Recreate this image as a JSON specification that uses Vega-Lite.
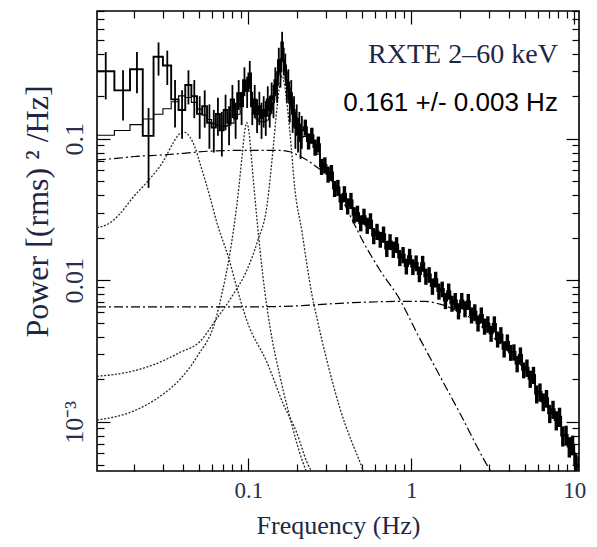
{
  "$schema": "https://vega.github.io/schema/vega-lite/v6.json",
  "width": 482,
  "height": 460,
  "autosize": {"type": "none"},
  "padding": {"left": 97, "top": 11, "right": 18, "bottom": 76},
  "background": "white",
  "config": {
    "view": {"stroke": "black", "strokeWidth": 1.6},
    "axis": {
      "domain": false,
      "grid": false,
      "tickColor": "black",
      "tickWidth": 1.2,
      "labelFont": "Liberation Serif",
      "labelColor": "#26304f",
      "titleFont": "Liberation Serif",
      "titleFontWeight": "normal",
      "titleColor": "#1e2647",
      "labelOverlap": false,
      "labelFlush": false,
      "labelBound": false
    }
  },
  "datasets": {
    "spectrum": [
      {"f": 0.00965, "p": 0.30, "e": 0.11, "m": 0.10},
      {"f": 0.01335, "p": 0.30, "e": 0.11, "m": 0.106},
      {"f": 0.01705, "p": 0.22, "e": 0.085, "m": 0.1145},
      {"f": 0.02075, "p": 0.31, "e": 0.10, "m": 0.126},
      {"f": 0.02445, "p": 0.105, "e": 0.06, "m": 0.138},
      {"f": 0.02815, "p": 0.38, "e": 0.10, "m": 0.149},
      {"f": 0.03185, "p": 0.33, "e": 0.09, "m": 0.163},
      {"f": 0.03555, "p": 0.19, "e": 0.07, "m": 0.183},
      {"f": 0.03925, "p": 0.16, "e": 0.06, "m": 0.201},
      {"f": 0.04295, "p": 0.24, "e": 0.065, "m": 0.196},
      {"f": 0.04665, "p": 0.20, "e": 0.06, "m": 0.181},
      {"f": 0.05035, "p": 0.15, "e": 0.05, "m": 0.162},
      {"f": 0.05405, "p": 0.17, "e": 0.05, "m": 0.147},
      {"f": 0.05775, "p": 0.13, "e": 0.045, "m": 0.137},
      {"f": 0.06145, "p": 0.12, "e": 0.04, "m": 0.128},
      {"f": 0.06515, "p": 0.15, "e": 0.045, "m": 0.125},
      {"f": 0.06885, "p": 0.115, "e": 0.04, "m": 0.122},
      {"f": 0.07255, "p": 0.16, "e": 0.045, "m": 0.123},
      {"f": 0.07625, "p": 0.13, "e": 0.04, "m": 0.125},
      {"f": 0.07995, "p": 0.19, "e": 0.05, "m": 0.129},
      {"f": 0.08365, "p": 0.14, "e": 0.04, "m": 0.1375},
      {"f": 0.08735, "p": 0.21, "e": 0.05, "m": 0.149},
      {"f": 0.09105, "p": 0.17, "e": 0.045, "m": 0.177},
      {"f": 0.09475, "p": 0.26, "e": 0.06, "m": 0.216},
      {"f": 0.09845, "p": 0.22, "e": 0.055, "m": 0.236},
      {"f": 0.10215, "p": 0.29, "e": 0.065, "m": 0.217},
      {"f": 0.10585, "p": 0.17, "e": 0.045, "m": 0.171},
      {"f": 0.10955, "p": 0.19, "e": 0.05, "m": 0.149},
      {"f": 0.11325, "p": 0.15, "e": 0.04, "m": 0.138},
      {"f": 0.11695, "p": 0.17, "e": 0.045, "m": 0.133},
      {"f": 0.12065, "p": 0.14, "e": 0.04, "m": 0.132},
      {"f": 0.12435, "p": 0.16, "e": 0.04, "m": 0.132},
      {"f": 0.12805, "p": 0.145, "e": 0.04, "m": 0.133},
      {"f": 0.13175, "p": 0.19, "e": 0.045, "m": 0.136},
      {"f": 0.13545, "p": 0.16, "e": 0.04, "m": 0.147},
      {"f": 0.13915, "p": 0.20, "e": 0.05, "m": 0.161},
      {"f": 0.14285, "p": 0.19, "e": 0.05, "m": 0.18},
      {"f": 0.14655, "p": 0.26, "e": 0.06, "m": 0.209},
      {"f": 0.15025, "p": 0.24, "e": 0.06, "m": 0.259},
      {"f": 0.15395, "p": 0.36, "e": 0.08, "m": 0.313},
      {"f": 0.15765, "p": 0.30, "e": 0.07, "m": 0.358},
      {"f": 0.16135, "p": 0.48, "e": 0.09, "m": 0.373},
      {"f": 0.16505, "p": 0.36, "e": 0.08, "m": 0.348},
      {"f": 0.16875, "p": 0.33, "e": 0.07, "m": 0.302},
      {"f": 0.17245, "p": 0.24, "e": 0.06, "m": 0.261},
      {"f": 0.17615, "p": 0.25, "e": 0.06, "m": 0.225},
      {"f": 0.17985, "p": 0.18, "e": 0.05, "m": 0.199},
      {"f": 0.18355, "p": 0.21, "e": 0.05, "m": 0.175},
      {"f": 0.18725, "p": 0.15, "e": 0.04, "m": 0.154},
      {"f": 0.19095, "p": 0.16, "e": 0.04, "m": 0.138},
      {"f": 0.19465, "p": 0.12, "e": 0.035, "m": 0.129},
      {"f": 0.19835, "p": 0.14, "e": 0.035, "m": 0.121},
      {"f": 0.20205, "p": 0.11, "e": 0.03, "m": 0.114},
      {"f": 0.20575, "p": 0.125, "e": 0.03, "m": 0.109},
      {"f": 0.20945, "p": 0.10, "e": 0.028, "m": 0.105},
      {"f": 0.21315, "p": 0.115, "e": 0.03, "m": 0.103},
      {"f": 0.2239, "p": 0.121, "e": 0.0157, "m": 0.104},
      {"f": 0.2344, "p": 0.0966, "e": 0.0126, "m": 0.099},
      {"f": 0.2455, "p": 0.106, "e": 0.0138, "m": 0.094},
      {"f": 0.2570, "p": 0.0874, "e": 0.0114, "m": 0.087},
      {"f": 0.2692, "p": 0.0918, "e": 0.0119, "m": 0.078},
      {"f": 0.2818, "p": 0.0639, "e": 0.0083, "m": 0.068},
      {"f": 0.2951, "p": 0.0655, "e": 0.0085, "m": 0.061},
      {"f": 0.3090, "p": 0.0563, "e": 0.0073, "m": 0.056},
      {"f": 0.3236, "p": 0.0578, "e": 0.0075, "m": 0.051},
      {"f": 0.3388, "p": 0.0446, "e": 0.0058, "m": 0.047},
      {"f": 0.3548, "p": 0.0454, "e": 0.0059, "m": 0.043},
      {"f": 0.3715, "p": 0.0361, "e": 0.0047},
      {"f": 0.3890, "p": 0.041, "e": 0.0053},
      {"f": 0.4074, "p": 0.0336, "e": 0.0044},
      {"f": 0.4266, "p": 0.0367, "e": 0.0048},
      {"f": 0.4467, "p": 0.0291, "e": 0.0038},
      {"f": 0.4677, "p": 0.0298, "e": 0.0039},
      {"f": 0.4898, "p": 0.0255, "e": 0.0033},
      {"f": 0.5129, "p": 0.0284, "e": 0.0037},
      {"f": 0.5370, "p": 0.0245, "e": 0.0032},
      {"f": 0.5623, "p": 0.0264, "e": 0.0034},
      {"f": 0.5888, "p": 0.0207, "e": 0.0027},
      {"f": 0.6166, "p": 0.0222, "e": 0.0029},
      {"f": 0.6457, "p": 0.0195, "e": 0.0025},
      {"f": 0.6761, "p": 0.0212, "e": 0.0028},
      {"f": 0.7079, "p": 0.0168, "e": 0.0022},
      {"f": 0.7413, "p": 0.0188, "e": 0.0024},
      {"f": 0.7762, "p": 0.0166, "e": 0.0022},
      {"f": 0.8128, "p": 0.0179, "e": 0.0023},
      {"f": 0.8511, "p": 0.0145, "e": 0.0019},
      {"f": 0.8913, "p": 0.0152, "e": 0.002},
      {"f": 0.9333, "p": 0.0126, "e": 0.0016},
      {"f": 0.9772, "p": 0.0148, "e": 0.0019},
      {"f": 1.0233, "p": 0.0125, "e": 0.0016},
      {"f": 1.0715, "p": 0.0133, "e": 0.0017},
      {"f": 1.1220, "p": 0.0111, "e": 0.0014},
      {"f": 1.1749, "p": 0.0132, "e": 0.0017},
      {"f": 1.2303, "p": 0.0107, "e": 0.0014},
      {"f": 1.2882, "p": 0.011, "e": 0.0014},
      {"f": 1.3490, "p": 0.0091, "e": 0.0012},
      {"f": 1.4125, "p": 0.0102, "e": 0.0013},
      {"f": 1.4791, "p": 0.0084, "e": 0.0011},
      {"f": 1.5488, "p": 0.0087, "e": 0.0011},
      {"f": 1.6218, "p": 0.0072, "e": 0.00094},
      {"f": 1.6982, "p": 0.0084, "e": 0.0011},
      {"f": 1.7783, "p": 0.0069, "e": 0.0009},
      {"f": 1.8621, "p": 0.0072, "e": 0.00094},
      {"f": 1.9498, "p": 0.0061, "e": 0.0008},
      {"f": 2.0417, "p": 0.0072, "e": 0.00094},
      {"f": 2.1380, "p": 0.0063, "e": 0.00082},
      {"f": 2.2387, "p": 0.0071, "e": 0.00092},
      {"f": 2.3442, "p": 0.0057, "e": 0.00074},
      {"f": 2.4547, "p": 0.006, "e": 0.00078},
      {"f": 2.5704, "p": 0.005, "e": 0.00065},
      {"f": 2.6915, "p": 0.0057, "e": 0.00074},
      {"f": 2.8184, "p": 0.00475, "e": 0.00062},
      {"f": 2.9512, "p": 0.00494, "e": 0.00064},
      {"f": 3.0903, "p": 0.00423, "e": 0.00055},
      {"f": 3.2359, "p": 0.00493, "e": 0.00064},
      {"f": 3.3884, "p": 0.00385, "e": 0.0005},
      {"f": 3.5481, "p": 0.00413, "e": 0.00054},
      {"f": 3.7154, "p": 0.00328, "e": 0.00043},
      {"f": 3.8905, "p": 0.00367, "e": 0.00048},
      {"f": 4.0738, "p": 0.0031, "e": 0.0004},
      {"f": 4.2658, "p": 0.00312, "e": 0.00041},
      {"f": 4.4668, "p": 0.00258, "e": 0.00034},
      {"f": 4.6774, "p": 0.00297, "e": 0.00039},
      {"f": 4.8978, "p": 0.00233, "e": 0.0003},
      {"f": 5.1286, "p": 0.00242, "e": 0.00034},
      {"f": 5.3703, "p": 0.00202, "e": 0.00028},
      {"f": 5.6234, "p": 0.00215, "e": 0.0003},
      {"f": 5.8884, "p": 0.00158, "e": 0.00023},
      {"f": 6.1660, "p": 0.00163, "e": 0.00024},
      {"f": 6.4565, "p": 0.00139, "e": 0.0002},
      {"f": 6.7608, "p": 0.00147, "e": 0.00021},
      {"f": 7.0795, "p": 0.00115, "e": 0.00017},
      {"f": 7.4131, "p": 0.00123, "e": 0.00018},
      {"f": 7.7625, "p": 0.00103, "e": 0.00016},
      {"f": 8.1283, "p": 0.00109, "e": 0.00017},
      {"f": 8.5114, "p": 0.0008, "e": 0.00013},
      {"f": 8.9125, "p": 0.00081, "e": 0.00013},
      {"f": 9.3325, "p": 0.00067, "e": 0.00011},
      {"f": 9.7724, "p": 0.00069, "e": 0.00011},
      {"f": 10.2329, "p": 0.0005, "e": 0.00009},
      {"f": 10.7152, "p": 0.00048, "e": 0.00009},
      {"f": 11.22, "p": 0.00041, "e": 0.00008}
    ],
    "components": [
      {"name": "qpo1", "f": 0.0118, "p": 0.0236}, {"name": "qpo1", "f": 0.0142, "p": 0.0255},
      {"name": "qpo1", "f": 0.0163, "p": 0.0295}, {"name": "qpo1", "f": 0.0196, "p": 0.0385},
      {"name": "qpo1", "f": 0.0239, "p": 0.0495}, {"name": "qpo1", "f": 0.030, "p": 0.069},
      {"name": "qpo1", "f": 0.0345, "p": 0.093}, {"name": "qpo1", "f": 0.0371, "p": 0.106},
      {"name": "qpo1", "f": 0.0398, "p": 0.112}, {"name": "qpo1", "f": 0.0439, "p": 0.103},
      {"name": "qpo1", "f": 0.0471, "p": 0.087}, {"name": "qpo1", "f": 0.0506, "p": 0.067},
      {"name": "qpo1", "f": 0.0582, "p": 0.0388}, {"name": "qpo1", "f": 0.0643, "p": 0.0254},
      {"name": "qpo1", "f": 0.0751, "p": 0.0149}, {"name": "qpo1", "f": 0.0865, "p": 0.0083},
      {"name": "qpo1", "f": 0.098, "p": 0.0052}, {"name": "qpo1", "f": 0.131, "p": 0.0026},
      {"name": "qpo1", "f": 0.163, "p": 0.00136}, {"name": "qpo1", "f": 0.199, "p": 0.00083},
      {"name": "qpo1", "f": 0.229, "p": 0.00052}, {"name": "qpo1", "f": 0.26, "p": 0.0004},

      {"name": "qpo2", "f": 0.0118, "p": 0.00103}, {"name": "qpo2", "f": 0.02, "p": 0.0012},
      {"name": "qpo2", "f": 0.03, "p": 0.00157}, {"name": "qpo2", "f": 0.0381, "p": 0.002},
      {"name": "qpo2", "f": 0.0486, "p": 0.0029}, {"name": "qpo2", "f": 0.0628, "p": 0.0052},
      {"name": "qpo2", "f": 0.069, "p": 0.0081}, {"name": "qpo2", "f": 0.0751, "p": 0.013},
      {"name": "qpo2", "f": 0.0829, "p": 0.027}, {"name": "qpo2", "f": 0.0865, "p": 0.040},
      {"name": "qpo2", "f": 0.092, "p": 0.079}, {"name": "qpo2", "f": 0.095, "p": 0.112},
      {"name": "qpo2", "f": 0.098, "p": 0.13}, {"name": "qpo2", "f": 0.101, "p": 0.112},
      {"name": "qpo2", "f": 0.104, "p": 0.079}, {"name": "qpo2", "f": 0.1054, "p": 0.066},
      {"name": "qpo2", "f": 0.1131, "p": 0.027}, {"name": "qpo2", "f": 0.118, "p": 0.0165},
      {"name": "qpo2", "f": 0.1266, "p": 0.0082}, {"name": "qpo2", "f": 0.1359, "p": 0.0047},
      {"name": "qpo2", "f": 0.1565, "p": 0.0021}, {"name": "qpo2", "f": 0.1728, "p": 0.0013},
      {"name": "qpo2", "f": 0.2137, "p": 0.00054}, {"name": "qpo2", "f": 0.23, "p": 0.00043},

      {"name": "qpo3", "f": 0.0118, "p": 0.0021}, {"name": "qpo3", "f": 0.02, "p": 0.0023},
      {"name": "qpo3", "f": 0.03, "p": 0.0027}, {"name": "qpo3", "f": 0.0381, "p": 0.0031},
      {"name": "qpo3", "f": 0.0506, "p": 0.0037}, {"name": "qpo3", "f": 0.0628, "p": 0.0052},
      {"name": "qpo3", "f": 0.08, "p": 0.0078}, {"name": "qpo3", "f": 0.098, "p": 0.0118},
      {"name": "qpo3", "f": 0.1131, "p": 0.0184}, {"name": "qpo3", "f": 0.1313, "p": 0.036},
      {"name": "qpo3", "f": 0.142, "p": 0.085}, {"name": "qpo3", "f": 0.15, "p": 0.165},
      {"name": "qpo3", "f": 0.156, "p": 0.24}, {"name": "qpo3", "f": 0.161, "p": 0.28},
      {"name": "qpo3", "f": 0.166, "p": 0.25}, {"name": "qpo3", "f": 0.1735, "p": 0.17},
      {"name": "qpo3", "f": 0.1803, "p": 0.110}, {"name": "qpo3", "f": 0.1935, "p": 0.0435},
      {"name": "qpo3", "f": 0.2137, "p": 0.022}, {"name": "qpo3", "f": 0.2293, "p": 0.0128},
      {"name": "qpo3", "f": 0.246, "p": 0.0079}, {"name": "qpo3", "f": 0.264, "p": 0.0054},
      {"name": "qpo3", "f": 0.304, "p": 0.0027}, {"name": "qpo3", "f": 0.365, "p": 0.00125},
      {"name": "qpo3", "f": 0.498, "p": 0.00048}, {"name": "qpo3", "f": 0.53, "p": 0.0004},

      {"name": "bln1", "f": 0.0118, "p": 0.071}, {"name": "bln1", "f": 0.016, "p": 0.073},
      {"name": "bln1", "f": 0.02, "p": 0.075}, {"name": "bln1", "f": 0.03, "p": 0.077},
      {"name": "bln1", "f": 0.04, "p": 0.079}, {"name": "bln1", "f": 0.06, "p": 0.082},
      {"name": "bln1", "f": 0.1, "p": 0.083}, {"name": "bln1", "f": 0.15, "p": 0.083},
      {"name": "bln1", "f": 0.18, "p": 0.081}, {"name": "bln1", "f": 0.205, "p": 0.076},
      {"name": "bln1", "f": 0.23, "p": 0.0705}, {"name": "bln1", "f": 0.264, "p": 0.063},
      {"name": "bln1", "f": 0.317, "p": 0.0528}, {"name": "bln1", "f": 0.365, "p": 0.040},
      {"name": "bln1", "f": 0.42, "p": 0.0289}, {"name": "bln1", "f": 0.52, "p": 0.0178},
      {"name": "bln1", "f": 0.643, "p": 0.0118}, {"name": "bln1", "f": 0.853, "p": 0.0073},
      {"name": "bln1", "f": 1.1, "p": 0.0041}, {"name": "bln1", "f": 1.36, "p": 0.0026},
      {"name": "bln1", "f": 1.99, "p": 0.00115}, {"name": "bln1", "f": 3.04, "p": 0.00046},
      {"name": "bln1", "f": 3.3, "p": 0.0004},

      {"name": "bln2", "f": 0.0118, "p": 0.0065}, {"name": "bln2", "f": 0.05, "p": 0.0065},
      {"name": "bln2", "f": 0.1, "p": 0.0065}, {"name": "bln2", "f": 0.2, "p": 0.0066},
      {"name": "bln2", "f": 0.3, "p": 0.0068}, {"name": "bln2", "f": 0.5, "p": 0.007},
      {"name": "bln2", "f": 0.8, "p": 0.0071}, {"name": "bln2", "f": 1.2, "p": 0.0071},
      {"name": "bln2", "f": 1.5, "p": 0.0068}, {"name": "bln2", "f": 1.85, "p": 0.0062},
      {"name": "bln2", "f": 2.5, "p": 0.0051}, {"name": "bln2", "f": 3.0, "p": 0.0042},
      {"name": "bln2", "f": 4.0, "p": 0.0031}, {"name": "bln2", "f": 5.0, "p": 0.0023},
      {"name": "bln2", "f": 6.0, "p": 0.00165}, {"name": "bln2", "f": 7.0, "p": 0.00125},
      {"name": "bln2", "f": 8.0, "p": 0.001}, {"name": "bln2", "f": 9.0, "p": 0.0008},
      {"name": "bln2", "f": 10.0, "p": 0.00062}, {"name": "bln2", "f": 11.0, "p": 0.0005}
    ]
  },
  "layer": [
    {
      "data": {"name": "components"},
      "transform": [{"filter": "datum.name == 'qpo1' || datum.name == 'qpo2' || datum.name == 'qpo3'"}],
      "mark": {"type": "line", "clip": true, "interpolate": "monotone", "color": "#2a2a2a", "strokeWidth": 1.3, "strokeDash": [2, 1.6]},
      "encoding": {
        "x": {
          "field": "f", "type": "quantitative",
          "scale": {"type": "log", "domain": [0.0118, 10.7], "nice": false},
          "axis": {
            "orient": "bottom",
            "values": [0.02, 0.03, 0.04, 0.05, 0.06, 0.07, 0.08, 0.09, 0.1, 0.2, 0.3, 0.4, 0.5, 0.6, 0.7, 0.8, 0.9, 1, 2, 3, 4, 5, 6, 7, 8, 9, 10],
            "labelExpr": "datum.value == 0.1 ? '0.1' : datum.value == 1 ? '1' : datum.value == 10 ? '10' : ''",
            "tickSize": {"condition": {"test": "datum.value == 0.1 || datum.value == 1 || datum.value == 10", "value": -13}, "value": -7},
            "labelFontSize": 23,
            "labelPadding": 21,
            "labelBaseline": "top",
            "title": "Frequency (Hz)",
            "titleFontSize": 26,
            "titleBaseline": "alphabetic",
            "titleY": 62
          }
        },
        "y": {
          "field": "p", "type": "quantitative",
          "scale": {"type": "log", "domain": [0.00045, 0.8], "nice": false},
          "axis": {
            "orient": "left",
            "values": [0.0005, 0.0006, 0.0007, 0.0008, 0.0009, 0.001, 0.002, 0.003, 0.004, 0.005, 0.006, 0.007, 0.008, 0.009, 0.01, 0.02, 0.03, 0.04, 0.05, 0.06, 0.07, 0.08, 0.09, 0.1, 0.2, 0.3, 0.4, 0.5, 0.6, 0.7, 0.8],
            "labelExpr": "datum.value == 0.1 ? '0.1' : datum.value == 0.01 ? '0.01' : datum.value == 0.001 ? '10⁻³' : ''",
            "tickSize": {"condition": {"test": "datum.value == 0.1 || datum.value == 0.01 || datum.value == 0.001", "value": -13}, "value": -7},
            "labelAngle": -90,
            "labelAlign": "center",
            "labelBaseline": "alphabetic",
            "labelFontSize": 26,
            "labelPadding": 28,
            "title": "Power [(rms) ² /Hz]",
            "titleFontSize": 32,
            "titleAngle": -90,
            "titleAlign": "center",
            "titleBaseline": "alphabetic",
            "titleX": -50,
            "titleY": 200
          }
        },
        "detail": {"field": "name"}
      }
    },
    {
      "data": {"name": "components"},
      "transform": [{"filter": "datum.name == 'bln1' || datum.name == 'bln2'"}],
      "mark": {"type": "line", "clip": true, "interpolate": "monotone", "color": "black", "strokeWidth": 1.2, "strokeDash": [9, 3, 2, 3]},
      "encoding": {
        "x": {
          "field": "f", "type": "quantitative",
          "scale": {"type": "log", "domain": [0.0118, 10.7], "nice": false},
          "axis": {
            "orient": "top",
            "values": [0.02, 0.03, 0.04, 0.05, 0.06, 0.07, 0.08, 0.09, 0.1, 0.2, 0.3, 0.4, 0.5, 0.6, 0.7, 0.8, 0.9, 1, 2, 3, 4, 5, 6, 7, 8, 9, 10],
            "labels": false,
            "tickSize": {"condition": {"test": "datum.value == 0.1 || datum.value == 1 || datum.value == 10", "value": -13}, "value": -7},
            "title": null
          }
        },
        "y": {
          "field": "p", "type": "quantitative",
          "scale": {"type": "log", "domain": [0.00045, 0.8], "nice": false},
          "axis": {
            "orient": "right",
            "values": [0.0005, 0.0006, 0.0007, 0.0008, 0.0009, 0.001, 0.002, 0.003, 0.004, 0.005, 0.006, 0.007, 0.008, 0.009, 0.01, 0.02, 0.03, 0.04, 0.05, 0.06, 0.07, 0.08, 0.09, 0.1, 0.2, 0.3, 0.4, 0.5, 0.6, 0.7, 0.8],
            "labels": false,
            "tickSize": {"condition": {"test": "datum.value == 0.1 || datum.value == 0.01 || datum.value == 0.001", "value": -13}, "value": -7},
            "title": null
          }
        },
        "detail": {"field": "name"}
      }
    },
    {
      "data": {"name": "spectrum"},
      "mark": {"type": "line", "clip": true, "interpolate": "step", "color": "black", "strokeWidth": 1.1},
      "encoding": {
        "x": {"field": "f", "type": "quantitative", "axis": null},
        "y": {"field": "m", "type": "quantitative", "axis": null}
      }
    },
    {
      "data": {"name": "spectrum"},
      "mark": {"type": "line", "clip": true, "interpolate": "step", "color": "black", "strokeWidth": 1.9},
      "encoding": {
        "x": {"field": "f", "type": "quantitative", "axis": null},
        "y": {"field": "p", "type": "quantitative", "axis": null}
      }
    },
    {
      "data": {"name": "spectrum"},
      "transform": [{"filter": "datum.f < 0.22"}],
      "mark": {"type": "errorbar", "clip": true, "ticks": false, "thickness": 1.8, "color": "black"},
      "encoding": {
        "x": {"field": "f", "type": "quantitative", "axis": null},
        "y": {"field": "p", "type": "quantitative", "axis": null},
        "yError": {"field": "e"}
      }
    },
    {
      "data": {"name": "spectrum"},
      "transform": [{"filter": "datum.f >= 0.22"}],
      "mark": {"type": "errorbar", "clip": true, "ticks": false, "thickness": 3.4, "color": "black"},
      "encoding": {
        "x": {"field": "f", "type": "quantitative", "axis": null},
        "y": {"field": "p", "type": "quantitative", "axis": null},
        "yError": {"field": "e"}
      }
    },
    {
      "data": {"values": [{"label": "RXTE 2–60 keV"}]},
      "mark": {"type": "text", "font": "Liberation Serif", "fontSize": 28, "align": "right", "baseline": "alphabetic", "color": "#1e2647"},
      "encoding": {
        "x": {"datum": 7.94, "type": "quantitative", "axis": null},
        "y": {"datum": 0.343, "type": "quantitative", "axis": null},
        "text": {"field": "label"}
      }
    },
    {
      "data": {"values": [{"label": "0.161 +/- 0.003 Hz"}]},
      "mark": {"type": "text", "font": "Liberation Sans", "fontSize": 26, "align": "right", "baseline": "alphabetic", "color": "black"},
      "encoding": {
        "x": {"datum": 7.94, "type": "quantitative", "axis": null},
        "y": {"datum": 0.157, "type": "quantitative", "axis": null},
        "text": {"field": "label"}
      }
    }
  ],
  "resolve": {"axis": {"x": "independent", "y": "independent"}}
}
